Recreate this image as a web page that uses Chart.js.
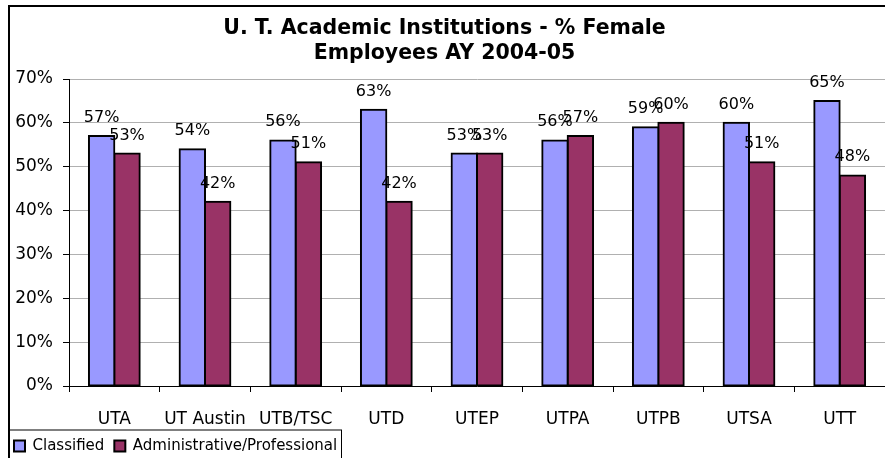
<!DOCTYPE html>
<html>
<head>
<meta charset="utf-8">
<script src="https://cdn.jsdelivr.net/npm/chart.js@4/dist/chart.umd.min.js"></script>
<style>
  html, body { margin: 0; padding: 0; background: #fff; }
  #wrap { width: 885px; height: 458px; position: relative; }
</style>
</head>
<body>
<div id="wrap"><canvas id="c" width="885" height="458"></canvas></div>
<script>
const categories = ["UTA", "UT Austin", "UTB/TSC", "UTD", "UTEP", "UTPA", "UTPB", "UTSA", "UTT"];
const classified = [57, 54, 56, 63, 53, 56, 59, 60, 65];
const adminProf = [53, 42, 51, 42, 53, 57, 60, 51, 48];
const yTicks = [0, 10, 20, 30, 40, 50, 60, 70];
const titleLines = ["U. T. Academic Institutions - % Female", "Employees AY 2004-05"];

const FONT = "'DejaVu Sans', Verdana, sans-serif";

const frame = {
  id: 'frame',
  beforeDraw(chart) {
    const ctx = chart.ctx;
    ctx.save();
    ctx.fillStyle = '#fff';
    ctx.fillRect(0, 0, chart.width, chart.height);
    ctx.strokeStyle = '#000';
    ctx.lineWidth = 2;
    ctx.strokeRect(9, 6, 900, 480);
    ctx.restore();
  },
  afterDraw(chart) {
    const ctx = chart.ctx;
    const lg = chart.legend;
    ctx.save();
    ctx.strokeStyle = '#000';
    ctx.lineWidth = 1;
    ctx.strokeRect(9.5, lg.top + 1.5, 332, 60);
    ctx.restore();
  }
};

const barLabels = {
  id: 'barLabels',
  afterDatasetsDraw(chart) {
    const ctx = chart.ctx;
    ctx.save();
    ctx.font = "16px " + FONT;
    ctx.fillStyle = '#000';
    ctx.textAlign = 'center';
    ctx.textBaseline = 'alphabetic';
    chart.data.datasets.forEach((ds, di) => {
      const meta = chart.getDatasetMeta(di);
      meta.data.forEach((bar, i) => {
        ctx.fillText(ds.data[i] + '%', bar.x, bar.y - 14);
      });
    });
    ctx.restore();
  }
};

const barStyle = {
  borderColor: '#000', borderWidth: 2, borderSkipped: false, inflateAmount: 1,
  barPercentage: 1.0, categoryPercentage: 0.56
};

new Chart(document.getElementById('c'), {
  type: 'bar',
  data: {
    labels: categories,
    datasets: [
      Object.assign({ label: 'Classified', data: classified, backgroundColor: '#9999FF' }, barStyle),
      Object.assign({ label: 'Administrative/Professional', data: adminProf, backgroundColor: '#993366' }, barStyle)
    ]
  },
  options: {
    responsive: false,
    animation: false,
    devicePixelRatio: 1,
    layout: { padding: { left: 4, right: 0, top: 0, bottom: -5.5 } },
    plugins: {
      title: {
        display: true,
        text: titleLines,
        color: '#000',
        font: { family: FONT, size: 20.5, weight: 'bold', lineHeight: 1.22 },
        padding: { top: 16, bottom: 13 }
      },
      legend: {
        display: true,
        position: 'bottom',
        align: 'start',
        labels: {
          color: '#000',
          font: { family: FONT, size: 15 },
          boxWidth: 11,
          boxHeight: 11,
          padding: 10
        }
      },
      tooltip: { enabled: false }
    },
    scales: {
      x: {
        afterFit(scale) { scale.height = 42.5; },
        grid: { display: true, drawOnChartArea: false, drawTicks: true, tickLength: 6, tickColor: '#000', offset: true },
        border: { color: '#000', width: 1 },
        ticks: { color: '#000', font: { family: FONT, size: 17 }, padding: 17, maxRotation: 0, autoSkip: false }
      },
      y: {
        min: 0,
        max: 70,
        afterBuildTicks(scale) { scale.ticks = yTicks.map(v => ({ value: v })); },
        afterFit(scale) { scale.width = 65; },
        grid: { color: '#b0b0b0', tickColor: '#000', tickLength: 6, lineWidth: 1 },
        border: { color: '#000', width: 1 },
        ticks: { color: '#000', font: { family: FONT, size: 17 }, padding: 10, callback: v => v + '%' }
      }
    }
  },
  plugins: [frame, barLabels]
});
</script>
</body>
</html>
